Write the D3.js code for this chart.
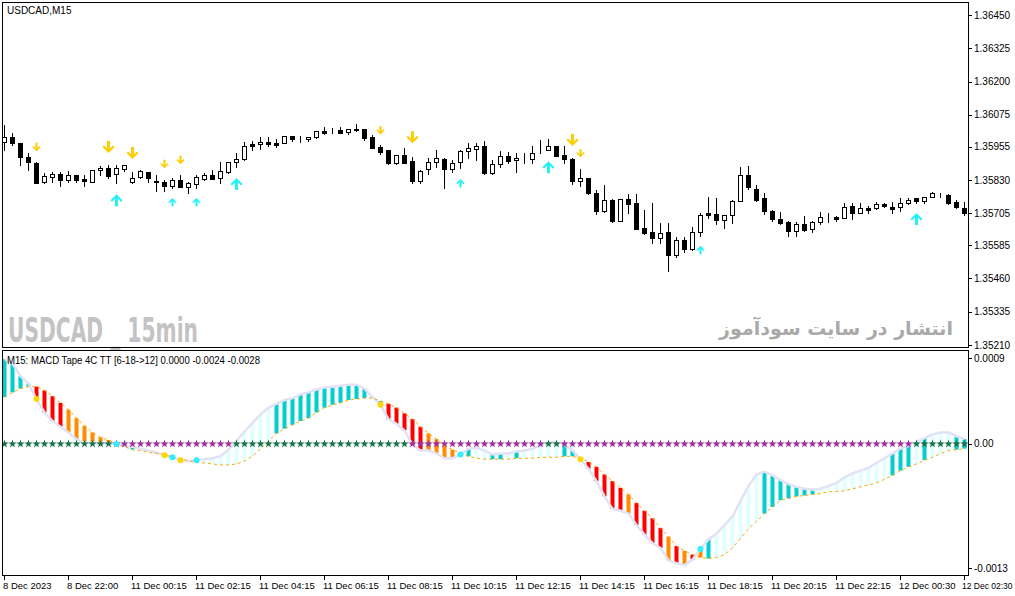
<!DOCTYPE html>
<html><head><meta charset="utf-8">
<script src="https://cdn.jsdelivr.net/npm/d3@7"></script>
<style>html,body{margin:0;padding:0;background:#fff;overflow:hidden}</style>
</head><body>
<svg id="c" width="1015" height="596"></svg>
<script>
// ---------- DATA ----------
const openP = [1.35972,1.35991,1.35969,1.35916,1.35893,1.35822,1.35841,1.35852,1.35830,1.35848,1.35833,1.35822,1.35867,1.35875,1.35852,1.35871,1.35822,1.35841,1.35860,1.35826,1.35822,1.35807,1.35830,1.35803,1.35815,1.35833,1.35848,1.35837,1.35860,1.35897,1.35908,1.35965,1.35965,1.35972,1.35969,1.35969,1.35995,1.35984,1.35984,1.35991,1.36014,1.36012,1.36017,1.36010,1.36021,1.36021,1.35991,1.35954,1.35942,1.35893,1.35924,1.35901,1.35826,1.35871,1.35897,1.35908,1.35871,1.35897,1.35939,1.35946,1.35957,1.35856,1.35890,1.35920,1.35905,1.35908,1.35908,1.35939,1.35942,1.35957,1.35924,1.35908,1.35826,1.35837,1.35781,1.35713,1.35754,1.35675,1.35758,1.35743,1.35649,1.35634,1.35612,1.35634,1.35548,1.35604,1.35570,1.35634,1.35706,1.35702,1.35679,1.35698,1.35751,1.35848,1.35796,1.35762,1.35713,1.35683,1.35672,1.35638,1.35664,1.35645,1.35672,1.35687,1.35691,1.35687,1.35732,1.35706,1.35724,1.35724,1.35739,1.35728,1.35728,1.35743,1.35762,1.35751,1.35766,1.35777,1.35773,1.35747,1.35724];
const highP = [1.36036,1.36006,1.35969,1.35931,1.35897,1.35856,1.35860,1.35860,1.35863,1.35848,1.35848,1.35867,1.35882,1.35886,1.35886,1.35886,1.35860,1.35867,1.35860,1.35848,1.35830,1.35837,1.35848,1.35822,1.35848,1.35856,1.35867,1.35897,1.35897,1.35931,1.35972,1.35976,1.35991,1.35991,1.35984,1.35995,1.35995,1.35995,1.35991,1.36014,1.36029,1.36025,1.36029,1.36021,1.36040,1.36021,1.35999,1.35961,1.35942,1.35924,1.35950,1.35916,1.35867,1.35912,1.35942,1.35912,1.35905,1.35942,1.35969,1.35969,1.35976,1.35905,1.35939,1.35935,1.35931,1.35931,1.35957,1.35980,1.35984,1.35957,1.35957,1.35912,1.35871,1.35837,1.35792,1.35811,1.35758,1.35758,1.35777,1.35777,1.35717,1.35743,1.35668,1.35668,1.35615,1.35615,1.35653,1.35706,1.35766,1.35762,1.35698,1.35754,1.35878,1.35882,1.35811,1.35781,1.35717,1.35709,1.35675,1.35672,1.35694,1.35675,1.35709,1.35706,1.35694,1.35743,1.35743,1.35743,1.35732,1.35747,1.35743,1.35747,1.35762,1.35762,1.35762,1.35766,1.35784,1.35781,1.35777,1.35754,1.35747];
const lowP = [1.35942,1.35961,1.35886,1.35867,1.35818,1.35818,1.35822,1.35807,1.35822,1.35822,1.35807,1.35822,1.35848,1.35837,1.35818,1.35863,1.35818,1.35837,1.35822,1.35788,1.35788,1.35800,1.35803,1.35781,1.35800,1.35830,1.35833,1.35818,1.35856,1.35878,1.35905,1.35942,1.35946,1.35957,1.35954,1.35969,1.35976,1.35972,1.35976,1.35987,1.36002,1.36006,1.36006,1.36002,1.36014,1.35980,1.35950,1.35927,1.35890,1.35890,1.35893,1.35818,1.35818,1.35852,1.35878,1.35800,1.35860,1.35875,1.35912,1.35905,1.35852,1.35852,1.35878,1.35893,1.35860,1.35893,1.35893,1.35931,1.35942,1.35920,1.35893,1.35815,1.35807,1.35777,1.35702,1.35709,1.35672,1.35675,1.35706,1.35645,1.35627,1.35593,1.35593,1.35488,1.35540,1.35559,1.35567,1.35619,1.35687,1.35664,1.35649,1.35668,1.35751,1.35796,1.35751,1.35702,1.35675,1.35664,1.35619,1.35619,1.35638,1.35634,1.35664,1.35672,1.35675,1.35687,1.35683,1.35706,1.35706,1.35721,1.35728,1.35706,1.35713,1.35739,1.35743,1.35743,1.35766,1.35766,1.35739,1.35724,1.35698];
const closeP = [1.35991,1.35969,1.35916,1.35897,1.35818,1.35845,1.35852,1.35830,1.35848,1.35830,1.35826,1.35867,1.35875,1.35845,1.35875,1.35886,1.35837,1.35863,1.35837,1.35822,1.35807,1.35830,1.35803,1.35818,1.35841,1.35848,1.35833,1.35863,1.35897,1.35908,1.35957,1.35957,1.35972,1.35965,1.35961,1.35995,1.35984,1.35984,1.35991,1.36014,1.36006,1.36012,1.36006,1.36021,1.36019,1.35987,1.35950,1.35935,1.35893,1.35924,1.35893,1.35826,1.35863,1.35897,1.35912,1.35871,1.35893,1.35939,1.35950,1.35957,1.35856,1.35890,1.35920,1.35901,1.35912,1.35908,1.35931,1.35939,1.35957,1.35920,1.35908,1.35826,1.35837,1.35781,1.35713,1.35754,1.35675,1.35758,1.35739,1.35645,1.35630,1.35612,1.35630,1.35548,1.35604,1.35570,1.35634,1.35698,1.35698,1.35679,1.35698,1.35751,1.35848,1.35803,1.35754,1.35713,1.35683,1.35668,1.35638,1.35664,1.35642,1.35672,1.35691,1.35688,1.35683,1.35728,1.35706,1.35724,1.35717,1.35739,1.35732,1.35721,1.35743,1.35754,1.35751,1.35766,1.35781,1.35777,1.35743,1.35728,1.35706];

const sellArrows = [{i:4,p:1.35954,big:false},{i:13,p:1.35954,big:true},{i:16,p:1.35931,big:true},{i:20,p:1.35890,big:false},{i:22,p:1.35905,big:false},{i:47,p:1.36017,big:false},{i:51,p:1.35991,big:true},{i:71,p:1.35980,big:true},{i:72,p:1.35931,big:false}];
const buyArrows = [{i:14,p:1.35754,big:true},{i:21,p:1.35747,big:false},{i:24,p:1.35747,big:false},{i:29,p:1.35815,big:true},{i:57,p:1.35818,big:false},{i:68,p:1.35878,big:true},{i:87,p:1.35567,big:false},{i:114,p:1.35683,big:true}];

const macd = [0.00089,0.00084,0.00071,0.00063,0.00047,0.00033,0.00024,0.00018,0.00012,0.00005,0.00001,0.00001,0.000005,0.000003,-0.000001,-0.00002,-0.00003,-0.00005,-0.00007,-0.00009,-0.00012,-0.00014,-0.00017,-0.00018,-0.00017,-0.00016,-0.00015,-0.00013,-0.00006,0.00003,0.00013,0.00022,0.00031,0.00038,0.00042,0.00046,0.00048,0.00052,0.00054,0.00057,0.00059,0.00060,0.00061,0.00062,0.00062,0.00058,0.00049,0.00041,0.00026,0.00021,0.00014,-0.00001,-0.00007,-0.00007,-0.00010,-0.00015,-0.00015,-0.00011,-0.00005,-0.00004,-0.00007,-0.00011,-0.00010,-0.00010,-0.00008,-0.00007,-0.00005,-0.00002,0.00002,0.00002,-0.00001,-0.00007,-0.00016,-0.00026,-0.00039,-0.00055,-0.00068,-0.00070,-0.00073,-0.00085,-0.00095,-0.00104,-0.00109,-0.00122,-0.00125,-0.00127,-0.00121,-0.00110,-0.00100,-0.00094,-0.00085,-0.00076,-0.00060,-0.00044,-0.00032,-0.00029,-0.00033,-0.00038,-0.00042,-0.00045,-0.00047,-0.00048,-0.00047,-0.00044,-0.00041,-0.00035,-0.00031,-0.00028,-0.00025,-0.00020,-0.00015,-0.00010,-0.00005,-0.00002,0.00002,0.00006,0.00010,0.00012,0.00012,0.00008,0.00005];
const signal = [0.00049,0.00054,0.00058,0.00060,0.00060,0.00056,0.00050,0.00043,0.00036,0.00027,0.00019,0.00012,0.00007,0.00004,0.00000,-0.00003,-0.00006,-0.00007,-0.00009,-0.00010,-0.00011,-0.00014,-0.00015,-0.00018,-0.00019,-0.00020,-0.00021,-0.00022,-0.00022,-0.00021,-0.00018,-0.00013,-0.00005,0.00003,0.00011,0.00016,0.00020,0.00024,0.00027,0.00033,0.00038,0.00041,0.00043,0.00046,0.00047,0.00048,0.00048,0.00045,0.00042,0.00038,0.00032,0.00026,0.00018,0.00011,0.00005,-0.00002,-0.00006,-0.00010,-0.00013,-0.00015,-0.00016,-0.00016,-0.00016,-0.00016,-0.00015,-0.00015,-0.00015,-0.00014,-0.00014,-0.00014,-0.00013,-0.00013,-0.00015,-0.00019,-0.00024,-0.00032,-0.00039,-0.00046,-0.00053,-0.00062,-0.00070,-0.00078,-0.00088,-0.00097,-0.00107,-0.00112,-0.00116,-0.00119,-0.00120,-0.00119,-0.00116,-0.00109,-0.00099,-0.00089,-0.00081,-0.00073,-0.00066,-0.00059,-0.00057,-0.00055,-0.00054,-0.00053,-0.00052,-0.00050,-0.00050,-0.00049,-0.00047,-0.00045,-0.00043,-0.00041,-0.00037,-0.00033,-0.00028,-0.00024,-0.00021,-0.00017,-0.00014,-0.00010,-0.00007,-0.00006,-0.00005];
// tape colour state per bar: c = up strong, l = up weak, r = down strong, o = down weak
const tapeState = "ccccrrrroooooocccllcocroclllllllllccccccccccccccrrrrrooooocllcclclllllcccrrrrrorrrrororocllllllccccccclllllllllccclclllcccc".split("");
const yellowDots = [4,20,22,47,72];
const cyanDots = [14,21,24,57,87];

const priceTicks = [1.36450,1.36325,1.36200,1.36075,1.35955,1.35830,1.35705,1.35585,1.35460,1.35335,1.35210];
const indTicks = [0.0009,0.0,-0.0013];
const indTickLabels = ["0.0009","0.00","-0.0013"];
const timeTickIdx = [0,8,16,24,32,40,48,56,64,72,80,88,96,104,112,120];
const timeLabels = ["8 Dec 2023","8 Dec 22:00","11 Dec 00:15","11 Dec 02:15","11 Dec 04:15","11 Dec 06:15","11 Dec 08:15","11 Dec 10:15","11 Dec 12:15","11 Dec 14:15","11 Dec 16:15","11 Dec 18:15","11 Dec 20:15","11 Dec 22:15","12 Dec 00:30","12 Dec 02:30"];

// ---------- DRAW ----------
const svg = d3.select("#c");
const FONT = "'Liberation Sans', Arial, sans-serif";
const x = d3.scaleLinear().domain([0,120]).range([4,964]);
const yP = d3.scaleLinear().domain([1.35210,1.36450]).range([345,15]);
const yI = d3.scaleLinear().domain([-0.0013,0.0009]).range([568,358]);
const px = i => Math.round(x(i));

svg.append("rect").attr("width",1015).attr("height",596).attr("fill","#fff");
const defs = svg.append("defs");
defs.append("clipPath").attr("id","cm").append("rect").attr("x",3).attr("y",3).attr("width",965).attr("height",344);
defs.append("clipPath").attr("id","ci").append("rect").attr("x",3).attr("y",351).attr("width",965).attr("height",224);

// watermarks
svg.append("text").attr("x",8).attr("y",342).attr("fill","#c3c3c3")
  .attr("font-family","'Liberation Sans Narrow','DejaVu Sans Condensed','Liberation Sans',sans-serif")
  .attr("font-weight","bold").attr("font-size",33).attr("textLength",190).attr("lengthAdjust","spacingAndGlyphs")
  .text("USDCAD _ 15min");
svg.append("text").attr("x",953).attr("y",335).attr("text-anchor","end").attr("fill","#a9a9a9")
  .attr("font-family","'DejaVu Sans',sans-serif").attr("font-size",19).attr("font-weight","bold")
  .text("انتشار در سایت سودآموز");

// candles
const gm = svg.append("g").attr("clip-path","url(#cm)");
const idx = d3.range(openP.length);
gm.selectAll("line.w").data(idx).join("line")
  .attr("x1",i=>px(i)+0.5).attr("x2",i=>px(i)+0.5)
  .attr("y1",i=>Math.round(yP(highP[i]))).attr("y2",i=>Math.round(yP(lowP[i]))+1)
  .attr("stroke","#000").attr("stroke-width",1);
gm.selectAll("rect.b").data(idx).join("rect")
  .attr("x",i=>px(i)-1.5).attr("width",4)
  .attr("y",i=>Math.round(yP(Math.max(openP[i],closeP[i])))+0.5)
  .attr("height",i=>Math.max(0,Math.round(yP(Math.min(openP[i],closeP[i])))-Math.round(yP(Math.max(openP[i],closeP[i])))))
  .attr("fill",i=>closeP[i]>=openP[i]?"#fff":"#000").attr("stroke","#000").attr("stroke-width",1);

// arrows
function arrowPath(up, s){
  const pts=[[-1.5,-6],[1.5,-6],[1.5,1.5],[4.5,-1.5],[6,0],[0,6],[-6,0],[-4.5,-1.5],[-1.5,1.5]];
  return "M"+pts.map(p=>[p[0]*s,(up?-p[1]:p[1])*s].join(",")).join("L")+"Z";
}
gm.selectAll("path.s").data(sellArrows).join("path")
  .attr("transform",d=>`translate(${px(d.i)+0.5},${yP(d.p)})`)
  .attr("d",d=>arrowPath(false,d.big?1:0.7)).attr("fill","#ffcc00");
gm.selectAll("path.u").data(buyArrows).join("path")
  .attr("transform",d=>`translate(${px(d.i)+0.5},${yP(d.p)})`)
  .attr("d",d=>arrowPath(true,d.big?1:0.7)).attr("fill","#22f2f8");

// indicator
const gi = svg.append("g").attr("clip-path","url(#ci)");
const tapeColor = {c:"#00ced1", l:"#e0ffff", r:"#ff0000", o:"#ff8c00"};
gi.selectAll("rect.t").data(idx).join("rect")
  .attr("x",i=>px(i)-1.5).attr("width",4)
  .attr("y",i=>yI(Math.max(macd[i],signal[i])))
  .attr("height",i=>Math.max(1,yI(Math.min(macd[i],signal[i]))-yI(Math.max(macd[i],signal[i]))))
  .attr("fill",i=>tapeColor[tapeState[i]]);
const line = d3.line().x((d,i)=>px(i)+0.5).y(d=>yI(d));
gi.append("path").datum(macd).attr("d",line).attr("fill","none").attr("stroke","#e2e2f6").attr("stroke-width",2.5).attr("stroke-linejoin","round");
gi.append("path").datum(signal).attr("d",line).attr("fill","none").attr("stroke","#ffa500").attr("stroke-width",1).attr("stroke-dasharray","3,3");
const star = d3.symbol().type(d3.symbolStar).size(22);
gi.selectAll("path.st").data(idx).join("path")
  .attr("transform",i=>`translate(${px(i)+0.5},${yI(0)})`).attr("d",star)
  .attr("fill",i=>macd[i]>0?"#187048":"#9c2f9c");
gi.selectAll("circle.y").data(yellowDots).join("circle")
  .attr("cx",i=>px(i)+0.5).attr("cy",i=>yI(macd[i])).attr("r",3).attr("fill","#ffd700");
gi.selectAll("circle.c").data(cyanDots).join("circle")
  .attr("cx",i=>px(i)+0.5).attr("cy",i=>yI(macd[i])).attr("r",3).attr("fill","#2ef0ff");

// frames
svg.append("rect").attr("x",2.5).attr("y",2.5).attr("width",966).attr("height",345).attr("fill","none").attr("stroke","#000");
svg.append("rect").attr("x",2.5).attr("y",350.5).attr("width",966).attr("height",225).attr("fill","none").attr("stroke","#000");

// price axis
const pa = svg.append("g");
pa.selectAll("line").data(priceTicks).join("line")
  .attr("x1",968.5).attr("x2",972).attr("y1",d=>Math.round(yP(d))+0.5).attr("y2",d=>Math.round(yP(d))+0.5).attr("stroke","#000");
pa.selectAll("text").data(priceTicks).join("text")
  .attr("x",974).attr("y",d=>yP(d)+3.5).attr("font-family",FONT).attr("font-size",10).attr("fill","#000")
  .text(d=>d.toFixed(5));
const ia = svg.append("g");
ia.selectAll("line").data(indTicks).join("line")
  .attr("x1",968.5).attr("x2",972).attr("y1",d=>Math.round(yI(d))+0.5).attr("y2",d=>Math.round(yI(d))+0.5).attr("stroke","#000");
ia.selectAll("text").data(indTicks).join("text")
  .attr("x",974).attr("y",d=>yI(d)+3.5).attr("font-family",FONT).attr("font-size",10).attr("fill","#000")
  .text((d,k)=>indTickLabels[k]);

// time axis
const ta = svg.append("g");
ta.selectAll("line").data(timeTickIdx).join("line")
  .attr("x1",i=>px(i)+0.5).attr("x2",i=>px(i)+0.5).attr("y1",576).attr("y2",580).attr("stroke","#000");
ta.selectAll("text").data(timeTickIdx).join("text")
  .attr("x",(i,k)=>k===timeTickIdx.length-1?px(i)-2:px(i)-1).attr("y",589).attr("font-family",FONT)
  .attr("font-size",(i,k)=>k===timeTickIdx.length-1?8.5:9.5).attr("fill","#000")
  .text((i,k)=>timeLabels[k]);

// titles
svg.append("text").attr("x",7).attr("y",14).attr("font-family",FONT).attr("font-size",10).attr("fill","#000").text("USDCAD,M15");
svg.append("text").attr("x",7).attr("y",364).attr("font-family",FONT).attr("font-size",10).attr("fill","#000")
  .attr("textLength",253).attr("lengthAdjust","spacingAndGlyphs")
  .text("M15: MACD Tape 4C TT [6-18->12] 0.0000 -0.0024 -0.0028");
</script>
</body></html>
